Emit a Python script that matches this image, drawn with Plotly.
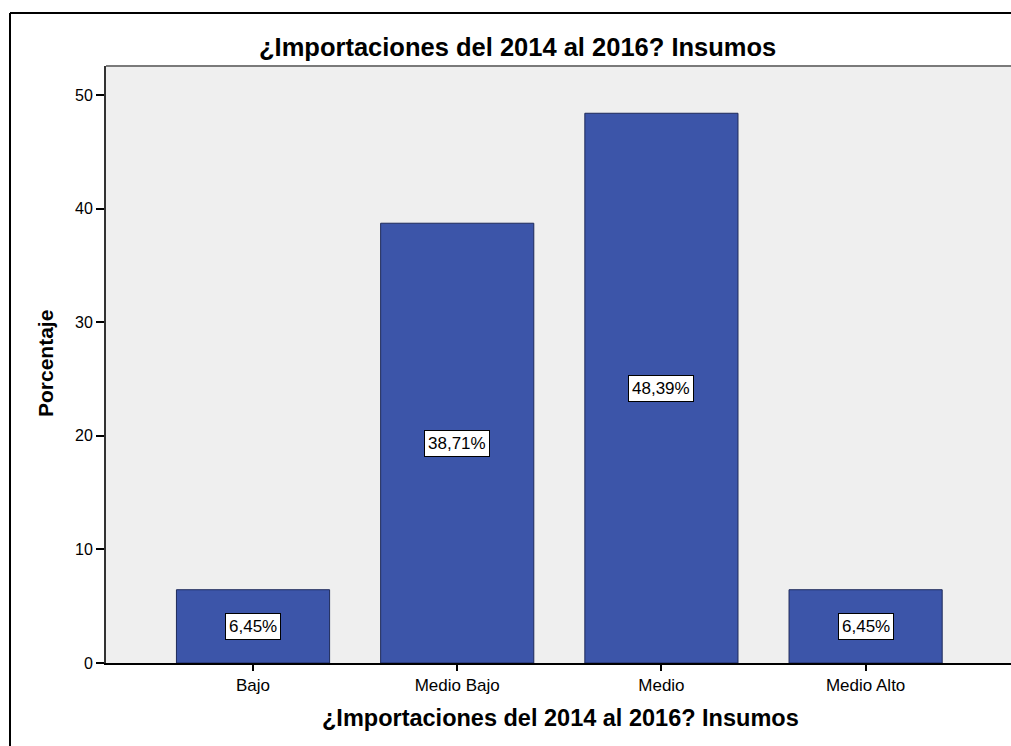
import plotly.graph_objects as go

categories = ["Bajo", "Medio Bajo", "Medio", "Medio Alto"]
percentages = [6.45, 38.71, 48.39, 6.45]
y_ticks = [0, 10, 20, 30, 40, 50]
title_text = "¿Importaciones del 2014 al 2016? Insumos"
x_title = "¿Importaciones del 2014 al 2016? Insumos"
y_title = "Porcentaje"

W, H = 1011, 746
L, R, T, B = 106, 0, 66, 83
PW, PH = W - L - R, H - T - B


def px_x(px):
    return (px - L) / PW


def px_y(py):
    return (H - B - py) / PH


FONT = "Liberation Sans, Arial, sans-serif"

fig = go.Figure()
fig.add_trace(go.Bar(
    x=list(range(len(categories))),
    y=percentages,
    marker=dict(color="#3c55a9", line=dict(color="#1e2a5a", width=1)),
    width=0.75,
    hoverinfo="skip",
))

annotations = []
for i, v in enumerate(percentages):
    annotations.append(dict(
        x=i, y=v / 2, xref="x", yref="y",
        text=f"{v:.2f}%".replace(".", ","),
        showarrow=False,
        font=dict(family=FONT, size=17, color="black"),
        bgcolor="white", bordercolor="black", borderwidth=1, borderpad=3,
    ))

annotations.append(dict(
    x=px_x(517), y=px_y(47), xref="paper", yref="paper",
    text=f"<b>{title_text}</b>", showarrow=False,
    font=dict(family=FONT, size=25.5, color="black"),
    xanchor="center", yanchor="middle",
))
annotations.append(dict(
    x=px_x(560), y=px_y(718), xref="paper", yref="paper",
    text=f"<b>{x_title}</b>", showarrow=False,
    font=dict(family=FONT, size=23.5, color="black"),
    xanchor="center", yanchor="middle",
))
annotations.append(dict(
    x=px_x(45), y=px_y(364), xref="paper", yref="paper",
    text=f"<b>{y_title}</b>", showarrow=False, textangle=-90,
    font=dict(family=FONT, size=21, color="black"),
    xanchor="center", yanchor="middle",
))

shapes = [
    # outer frame (left and top edges)
    dict(type="line", xref="paper", yref="paper",
         x0=px_x(10), x1=px_x(10), y0=px_y(13), y1=px_y(760),
         line=dict(color="black", width=2)),
    dict(type="line", xref="paper", yref="paper",
         x0=px_x(10), x1=px_x(1020), y0=px_y(13), y1=px_y(13),
         line=dict(color="black", width=2)),
    # plot area top border
    dict(type="line", xref="paper", yref="paper",
         x0=0, x1=1.01, y0=1, y1=1,
         line=dict(color="#7a7a7a", width=2)),
]

fig.update_layout(
    width=W, height=H,
    margin=dict(l=L, r=R, t=T, b=B, pad=0),
    paper_bgcolor="white",
    plot_bgcolor="#efefef",
    showlegend=False,
    annotations=annotations,
    shapes=shapes,
    font=dict(family=FONT, size=16, color="black"),
)
fig.update_xaxes(
    range=[-0.72, 3.712],
    tickmode="array", tickvals=list(range(len(categories))), ticktext=categories,
    ticks="outside", ticklen=6, tickwidth=2, tickcolor="black",
    showline=True, linecolor="black", linewidth=2,
    showgrid=False, zeroline=False,
    tickfont=dict(family=FONT, size=17, color="black"),
)
fig.update_yaxes(
    range=[0, 52.55],
    tickmode="array", tickvals=y_ticks,
    ticks="outside", ticklen=8, tickwidth=2, tickcolor="black",
    showline=True, linecolor="#333333", linewidth=2,
    showgrid=False, zeroline=False,
    tickfont=dict(family=FONT, size=16, color="black"),
)

fig.write_html(
    "out.html",
    config={"displayModeBar": False},
    post_script="document.body.style.margin='0';document.body.style.overflow='hidden';",
)
